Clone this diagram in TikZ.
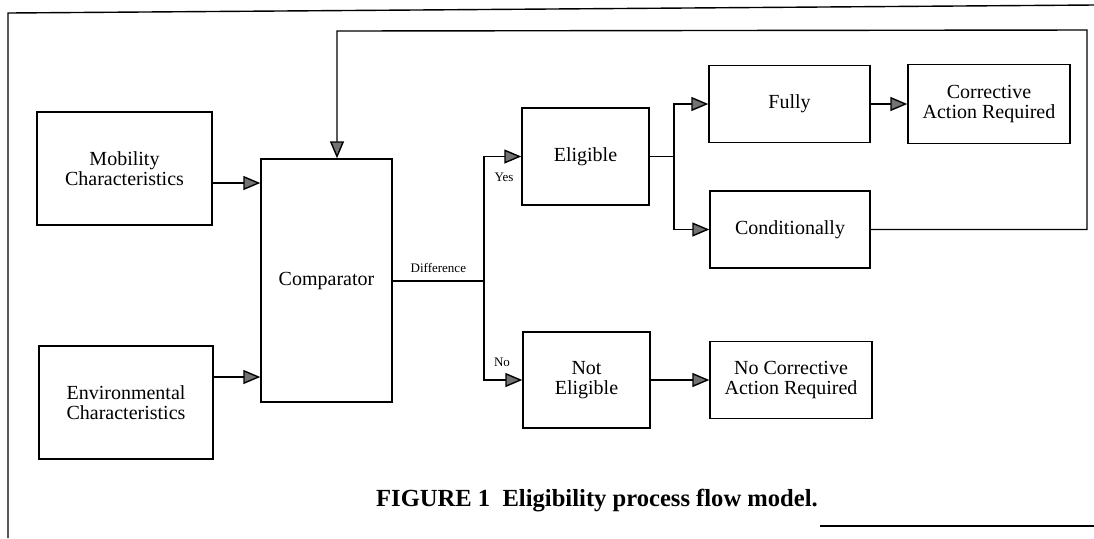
\documentclass[tikz,border=0pt]{standalone}
\usepackage{fontspec}
\setmainfont{Liberation Serif}
\usetikzlibrary{arrows.meta}
\usetikzlibrary{positioning}

\begin{document}
\begin{tikzpicture}[x=0.5pt, y=-0.5pt, line width=0.7pt,
        >={Triangle[length=8.5pt, width=7pt, fill=black!55]},
        n/.style n args={2}{draw, align=center, inner sep=0pt, font=\fontsize{10}{10}\selectfont,
            minimum width=#1, minimum height=#2},
        lbl/.style={font=\fontsize{6.5}{7}\selectfont, inner sep=0pt}]
        \useasboundingbox (0,0) rectangle (1094,538);

        \node[n={87.5pt}{56.5pt}] (mob) at (124.5, 168.5) {Mobility\\Characteristics};
        \node[n={87pt}{56.5pt}] (env) at (126, 402.5) {Environmental\\Characteristics};
        \node[n={65.5pt}{121.5pt}] (comp) at (326.5, 280.5) {Comparator};
        \node[n={63.5pt}{48.5pt}] (elig) at (585.5, 156.5) {Eligible};
        \node[n={63.5pt}{48pt}] (nelig) at (586.5, 380) {Not\\Eligible};
        \node[n={80.5pt}{38.5pt}] (fully) at (789.5, 104) {Fully};
        \node[n={81pt}{39.5pt}] (corr) at (989, 104) {Corrective\\Action Required};
        \node[n={80pt}{38.5pt}] (cond) at (790, 229.5) {Conditionally};
        \node[n={81pt}{38.5pt}] (nocorr) at (791, 380) {No Corrective\\Action Required};

        \coordinate (split) at (484, 281);
        \coordinate (fork) at (674, 156.5);
        \coordinate (fb) at (1087, 30);
        \coordinate (fbin) at (337, 31);

        % inputs
        \draw[->] (mob.east |- 0,183) -- (comp.west |- 0,183);
        \draw[->] (env.east |- 0,377) -- (comp.west |- 0,377);

        % decision
        \draw (comp.east |- split) -- (split) node[lbl, midway, above=4pt] {Difference};
        \draw[->] (split) |- (elig.west);
        \draw[->] (split) |- (nelig.west);
        \node[lbl] (yes) at (504, 177) {Yes};
        \node[lbl] (no) at (502, 362) {No};

        \draw (elig.east) -- (fork);
        \draw[->] (fork) |- (fully.west);
        \draw[->] (fork) |- (cond.west);
        \draw (fully) edge[->] (corr);
        \draw (nelig) edge[->] (nocorr);

        % feedback loop
        \draw[->] (cond.east) -| (fb) -- (fbin) -- (fbin |- comp.north);

        % page frame
        \draw (8,538) -- (8,13) -- (1094,5);
        \draw (820,526) -- (1094,526);

        \node[font=\bfseries\fontsize{12.3}{13}\selectfont] (cap) at (597, 501)
            {FIGURE 1\enspace Eligibility process flow model.};
    \end{tikzpicture}
\end{document}
